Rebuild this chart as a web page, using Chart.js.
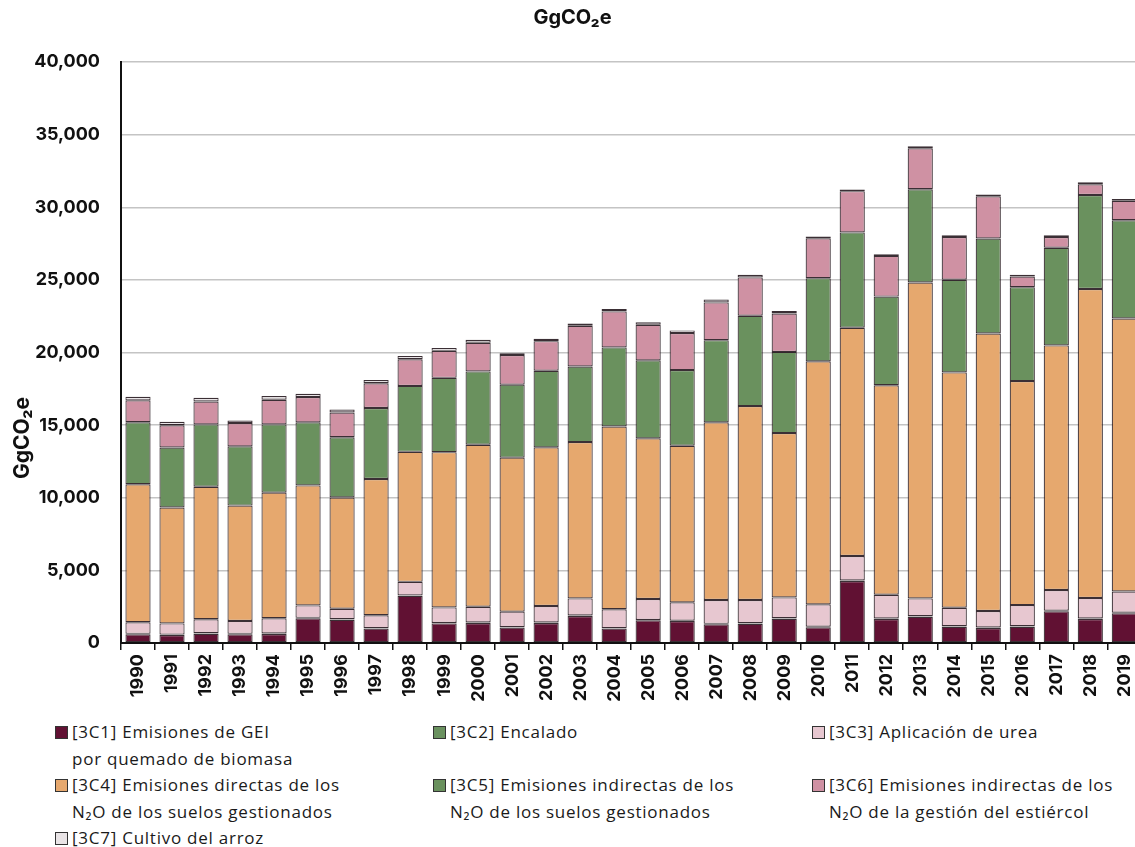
<!DOCTYPE html>
<html>
<head>
<meta charset="utf-8">
<script src="https://cdn.jsdelivr.net/npm/chart.js@4"></script>
<style>
    body { margin: 0; background: #fff; overflow: hidden; width: 1135px; height: 847px; position: relative; }
    #wrap { position: absolute; left: 0; top: 0; width: 1150px; height: 712px; }
    .legend { position: absolute; left: 0; top: 0; font-family: "Open Sans", "DejaVu Sans", sans-serif; font-size: 17px; letter-spacing: 0.75px; color: #1a1a1a; }
    .item { position: absolute; display: flex; align-items: flex-start; line-height: 26.5px; white-space: nowrap; }
    .sw { width: 11px; height: 11px; border: 1px solid #333; margin: 7px 4px 0 0; flex: none; }
</style>
</head>
<body>
<div id="wrap"><canvas id="chart" width="1150" height="712"></canvas></div>
<div class="legend" id="legend"></div>
<script>
// ---- data (GgCO2e) ----
const years = ['1990','1991','1992','1993','1994','1995','1996','1997','1998','1999',
               '2000','2001','2002','2003','2004','2005','2006','2007','2008','2009',
               '2010','2011','2012','2013','2014','2015','2016','2017','2018','2019'];

const c1 = [600, 550, 640, 600, 620, 1700, 1600, 990, 3250, 1350, 1380, 1060, 1380, 1860, 990, 1560, 1510, 1290, 1330, 1670, 1080, 4270, 1650, 1810, 1120, 1030, 1120, 2180, 1650, 2040];
const c2 = [30, 30, 30, 30, 30, 30, 30, 30, 30, 30, 30, 30, 30, 30, 30, 30, 30, 30, 30, 30, 40, 40, 40, 40, 40, 40, 40, 40, 40, 40];
const c3 = [795, 770, 960, 890, 1050, 860, 730, 890, 930, 1070, 1090, 1070, 1140, 1180, 1300, 1440, 1260, 1640, 1600, 1440, 1540, 1680, 1630, 1220, 1270, 1130, 1450, 1430, 1410, 1470];
const c4 = [9500, 7980, 9130, 7940, 8650, 8260, 7660, 9380, 8950, 10690, 11150, 10600, 10920, 10760, 12590, 11060, 10780, 12230, 13350, 11310, 16730, 15710, 14430, 21750, 16200, 19110, 15420, 16840, 21270, 18790];
const c5 = [4270, 4130, 4290, 4080, 4700, 4340, 4150, 4890, 4540, 5115, 5050, 5025, 5270, 5210, 5440, 5370, 5210, 5660, 6220, 5590, 5730, 6570, 6100, 6420, 6380, 6540, 6470, 6720, 6470, 6770];
const c6 = [1510, 1535, 1580, 1600, 1700, 1740, 1700, 1700, 1835, 1860, 1970, 2040, 2040, 2800, 2480, 2450, 2545, 2600, 2640, 2640, 2750, 2840, 2800, 2820, 2940, 2910, 735, 740, 740, 1330];
const c7 = [250, 230, 250, 170, 250, 230, 200, 230, 230, 200, 200, 120, 160, 160, 160, 180, 185, 200, 180, 180, 120, 120, 110, 140, 120, 120, 110, 120, 140, 120];

const yTicks = [0, 5000, 10000, 15000, 20000, 25000, 30000, 35000, 40000];

const series = [
    { label: '[3C1] Emisiones de GEI', line2: 'por quemado de biomasa', data: c1, color: '#611133' },
    { label: '[3C2] Encalado', line2: '', data: c2, color: '#6a915f' },
    { label: '[3C3] Aplicación de urea', line2: '', data: c3, color: '#e7c7d0' },
    { label: '[3C4] Emisiones directas de los', line2: 'N₂O de los suelos gestionados', data: c4, color: '#e6a86e' },
    { label: '[3C5] Emisiones indirectas de los', line2: 'N₂O de los suelos gestionados', data: c5, color: '#6a915e' },
    { label: '[3C6] Emisiones indirectas de los', line2: 'N₂O de la gestión del estiércol', data: c6, color: '#cf91a3' },
    { label: '[3C7] Cultivo del arroz', line2: '', data: c7, color: '#e9e4e6' },
];

const FONT = '"Inter", "DejaVu Sans", sans-serif';
const CANVAS_H = 712;
const PLOT_BOTTOM = 643;

// y-axis title sits below the middle of the axis in the original, so draw it by hand
const yTitlePlugin = {
    id: 'yTitle',
    afterDraw(chart) {
        const ctx = chart.ctx;
        ctx.save();
        ctx.translate(23, 438);
        ctx.rotate(-Math.PI / 2);
        ctx.font = `bold 21px ${FONT}`;
        ctx.fillStyle = '#111';
        ctx.textAlign = 'center';
        ctx.textBaseline = 'middle';
        ctx.fillText('GgCO₂e', 0, 0);
        ctx.restore();
    },
};

new Chart(document.getElementById('chart'), {
    type: 'bar',
    data: {
        labels: years,
        datasets: series.map(s => ({
            label: s.label,
            data: s.data,
            backgroundColor: s.color,
            borderColor: 'rgba(25,10,18,0.85)',
            borderWidth: 1.2,
            borderSkipped: false,
            barPercentage: 0.74,
            categoryPercentage: 1,
        })),
    },
    options: {
        responsive: false,
        animation: false,
        layout: { padding: { left: 0, right: 5, top: 0, bottom: 0 } },
        plugins: {
            legend: { display: false },
            tooltip: { enabled: false },
            title: {
                display: true,
                text: 'GgCO₂e',
                color: '#111',
                font: { family: FONT, size: 20, weight: 'bold' },
                padding: { top: 6, bottom: 32 },
            },
        },
        scales: {
            x: {
                stacked: true,
                offset: true,
                grid: { display: true, offset: true, drawOnChartArea: false, color: '#111', lineWidth: 1.5, tickLength: 7 },
                border: { display: true, color: '#111', width: 2 },
                ticks: {
                    color: '#111', minRotation: 90, maxRotation: 90, autoSkip: false, padding: 4,
                    font: { family: FONT, size: 18, weight: 'bold' },
                },
                afterFit: scale => { scale.height = CANVAS_H - PLOT_BOTTOM; },
            },
            y: {
                stacked: true,
                min: 0,
                max: 40000,
                afterBuildTicks: scale => { scale.ticks = yTicks.map(v => ({ value: v })); },
                grid: { color: '#c4c4c4', lineWidth: 1.5, drawTicks: false },
                border: { display: true, color: '#111', width: 2 },
                ticks: {
                    color: '#111', padding: 21,
                    font: { family: FONT, size: 18, weight: 'bold' },
                    callback: v => v.toLocaleString('en-US'),
                },
                afterFit: scale => { scale.width = 121; },
            },
        },
    },
    plugins: [yTitlePlugin],
});

// legend (3 columns, html)
const colX = [55, 433, 812];
const rowTop = [719, 772, 825];
const slots = [[0,0],[0,1],[0,2],[1,0],[1,1],[1,2],[2,0]];
const legendEl = document.getElementById('legend');
series.forEach((s, i) => {
    const [r, c] = slots[i];
    const item = document.createElement('div');
    item.className = 'item';
    item.style.left = colX[c] + 'px';
    item.style.top = rowTop[r] + 'px';
    item.innerHTML = `<span class="sw" style="background:${s.color}"></span><span>${s.label}${s.line2 ? '<br>' + s.line2 : ''}</span>`;
    legendEl.appendChild(item);
});
</script>
</body>
</html>
